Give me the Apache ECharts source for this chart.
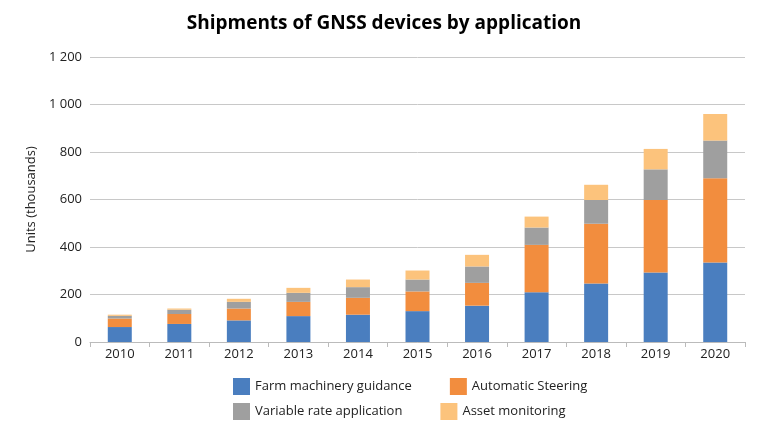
<!DOCTYPE html>
<html>
<head>
<meta charset="utf-8">
<script src="https://cdn.jsdelivr.net/npm/echarts@6/dist/echarts.min.js"></script>
<style>
  html, body { margin: 0; padding: 0; background: #fff; }
  #chart { width: 768px; height: 433px; }
</style>
</head>
<body>
<div id="chart"></div>
<script>
// values (thousands of units)
var years = ['2010', '2011', '2012', '2013', '2014', '2015', '2016', '2017', '2018', '2019', '2020'];
var farmGuidance = [63, 76, 91, 109, 115, 130, 153, 209, 246, 293, 335];
var autoSteering = [36, 42, 50, 60, 71, 83, 96, 200, 252, 305, 355];
var variableRate = [11, 18, 28, 38, 45, 50, 69, 73, 100, 129, 158];
var assetMonitoring = [5, 5, 13, 21, 32, 38, 49, 46, 64, 86, 112];

var font = 'Open Sans';
var chart = echarts.init(document.getElementById('chart'));

function bar(name, data, color) {
    return {
        name: name,
        type: 'bar',
        stack: 'total',
        data: data,
        barWidth: 24,
        itemStyle: { color: color }
    };
}

var legendText = { fontFamily: font, fontSize: 13, color: '#222', width: 168 };

var option = {
    animation: false,
    textStyle: { fontFamily: font },
    title: {
        text: 'Shipments of GNSS devices by application',
        left: 'center',
        top: 9,
        textStyle: { fontFamily: font, fontSize: 19, fontWeight: 'bold', color: '#000' }
    },
    legend: [
        {
            data: ['Farm machinery guidance', 'Automatic Steering'],
            left: 228, top: 373, itemGap: 38, itemWidth: 17, itemHeight: 17,
            icon: 'rect', textStyle: legendText
        },
        {
            data: ['Variable rate application', 'Asset monitoring'],
            left: 228, top: 398, itemGap: 38, itemWidth: 17, itemHeight: 17,
            icon: 'rect', textStyle: legendText
        }
    ],
    grid: { left: 90, right: 23, top: 57, bottom: 91 },
    xAxis: {
        type: 'category',
        data: years,
        axisLine: { lineStyle: { color: '#bbb' } },
        axisTick: { show: true, lineStyle: { color: '#bbb' } },
        axisLabel: { color: '#222', fontSize: 13, margin: 6 }
    },
    yAxis: {
        type: 'value',
        min: 0,
        max: 1200,
        interval: 200,
        name: 'Units (thousands)',
        nameLocation: 'middle',
        nameGap: 45,
        nameTextStyle: { fontFamily: font, fontSize: 13, color: '#222' },
        axisLabel: {
            color: '#222', fontSize: 13,
            formatter: function (v) { return String(v).replace(/\B(?=(\d{3})+(?!\d))/g, ' '); }
        },
        splitLine: { lineStyle: { color: '#c8c8c8' } }
    },
    series: [
        bar('Farm machinery guidance', farmGuidance, '#4a7ebf'),
        bar('Automatic Steering', autoSteering, '#f28d3e'),
        bar('Variable rate application', variableRate, '#9f9f9f'),
        bar('Asset monitoring', assetMonitoring, '#fcc37c')
    ]
};
chart.setOption(option);
</script>
</body>
</html>
